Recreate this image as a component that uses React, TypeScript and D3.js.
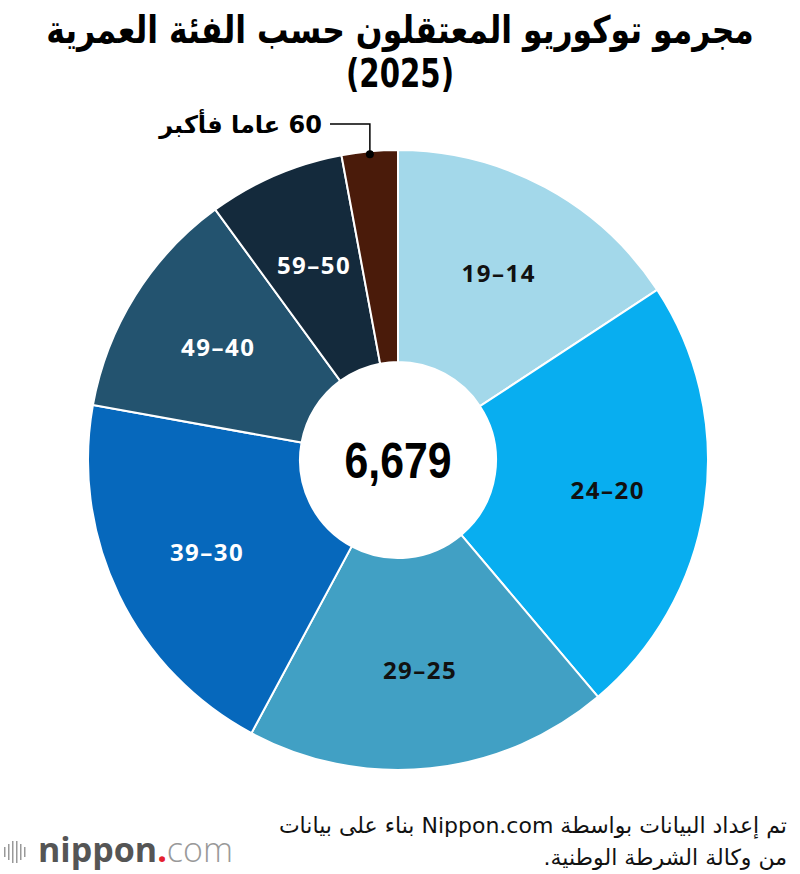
import React, { useEffect, useRef, useState } from "react";
import * as d3 from "d3";

// Tokyo youth offenders by age group, 2025
const categories = ["14–19", "20–24", "25–29", "30–39", "40–49", "50–59", "60+"];
const values = [1052, 1542, 1269, 1336, 810, 475, 195];
const colors = ["#a3d8ea", "#08aef0", "#41a0c4", "#0668bc", "#23536f", "#142a3c", "#4a1b0a"];
const labelColors = ["#111", "#111", "#111", "#fff", "#fff", "#fff", "#fff"];
const total = 6679;

const titleLines = ["مجرمو توكوريو المعتقلون حسب الفئة العمرية", "(2025)"];
const smallLabel = "60 عاما فأكبر";
const noteLines = [
  "تم إعداد البيانات بواسطة Nippon.com بناء على بيانات",
  "من وكالة الشرطة الوطنية.",
];

const RLE = "\u202B";
const PDF = "\u202C";

const App = () => {
  const width = 800;
  const height = 874;
  const cx = 398;
  const cy = 460;
  const outerR = 310;
  const innerR = 98;
  const labelR = 212;

  const titleRef = useRef<SVGTextElement>(null);
  const [titleScale, setTitleScale] = useState(0.8);

  useEffect(() => {
    // squeeze the title to the reference width (condensed look)
    if (titleRef.current) {
      const w = titleRef.current.getComputedTextLength();
      if (w > 0) setTitleScale(708 / w);
    }
  }, []);

  const pie = d3
    .pie<number>()
    .sort(null)
    .value((d) => d);
  const arcs = pie(values);
  const arc = d3
    .arc<d3.PieArcDatum<number>>()
    .innerRadius(innerR)
    .outerRadius(outerR);
  const labelArc = d3
    .arc<d3.PieArcDatum<number>>()
    .innerRadius(labelR)
    .outerRadius(labelR);

  // leader for the tiny last slice
  const last = arcs[arcs.length - 1];
  const midA = (last.startAngle + last.endAngle) / 2;
  const dotR = outerR - 3;
  const dotX = Math.sin(midA) * dotR;
  const dotY = -Math.cos(midA) * dotR;
  const elbowY = -336;
  const leftX = -68;

  const arabic = "'DejaVu Sans', 'Noto Sans', sans-serif";

  return (
    <svg
      width={width}
      height={height}
      style={{ position: "absolute", left: 0, top: 0, background: "#fff" }}
    >
      {/* title */}
      <g transform={`translate(400,43) scale(${titleScale},1)`}>
        <text
          ref={titleRef}
          x={0}
          y={0}
          textAnchor="middle"
          fontFamily={arabic}
          fontWeight="bold"
          fontSize={38}
          fill="#000"
        >
          {titleLines[0]}
        </text>
      </g>
      <text
        x={400}
        y={87}
        textAnchor="middle"
        fontFamily={arabic}
        fontWeight="bold"
        fontSize={39}
        textLength={108}
        lengthAdjust="spacingAndGlyphs"
        fill="#000"
      >
        {titleLines[1]}
      </text>

      <g transform={`translate(${cx},${cy})`}>
        {arcs.map((a, i) => (
          <path
            key={categories[i]}
            d={arc(a) || ""}
            fill={colors[i]}
            stroke="#fff"
            strokeWidth={2}
          />
        ))}
        {arcs.slice(0, arcs.length - 1).map((a, i) => {
          const [lx, ly] = labelArc.centroid(a);
          return (
            <text
              key={"l" + i}
              x={lx}
              y={ly}
              dy="0.35em"
              textAnchor="middle"
              fontFamily="'Noto Sans', sans-serif"
              fontWeight="bold"
              fontSize={24}
              letterSpacing={1.5}
              fill={labelColors[i]}
            >
              {RLE + categories[i] + PDF}
            </text>
          );
        })}

        <circle r={innerR} fill="#fff" />
        <text
          x={0}
          y={0}
          dy="0.36em"
          textAnchor="middle"
          fontFamily="'Liberation Sans', sans-serif"
          fontWeight="bold"
          fontSize={50}
          textLength={107}
          lengthAdjust="spacingAndGlyphs"
          fill="#000"
        >
          {d3.format(",")(total)}
        </text>

        {/* leader for 60+ */}
        <polyline
          points={`${dotX},${dotY} ${dotX},${elbowY} ${leftX},${elbowY}`}
          fill="none"
          stroke="#000"
          strokeWidth={1.5}
        />
        <circle cx={dotX} cy={dotY} r={4} fill="#000" />
        <text
          x={leftX - 8}
          y={elbowY + 9}
          textAnchor="end"
          fontFamily={arabic}
          fontWeight="bold"
          fontSize={24}
          fill="#000"
        >
          {RLE + smallLabel + PDF}
        </text>
      </g>

      {/* source note */}
      {noteLines.map((t, i) => (
        <text
          key={"n" + i}
          x={787}
          y={833 + i * 32}
          textAnchor="end"
          fontFamily={arabic}
          fontSize={22}
          fill="#111"
        >
          {RLE + t + PDF}
        </text>
      ))}

      {/* logo */}
      <g fill="#999">
        {[0, 1, 2, 3, 4, 5].map((k) => {
          const h = [10, 16, 22, 22, 16, 10][k];
          return <rect key={k} x={4 + k * 4} y={852 - h / 2} width={1.5} height={h} />;
        })}
      </g>
      <text x={38} y={862} fontFamily="'Open Sans', sans-serif" fontSize={34}>
        <tspan fill="#555" fontWeight="bold">nippon</tspan>
        <tspan fill="#e5202e" fontWeight="bold">.</tspan>
        <tspan fill="#999" fontWeight="300">com</tspan>
      </text>
    </svg>
  );
};

export default App;
